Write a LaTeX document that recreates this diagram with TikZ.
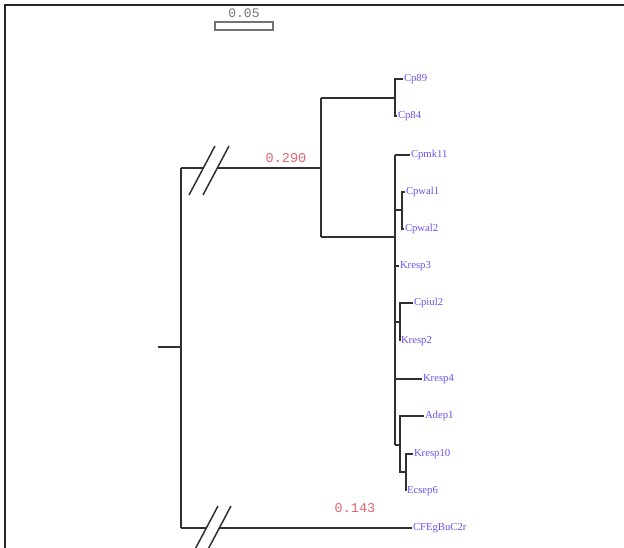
\documentclass[tikz,border=0pt]{standalone}
\usepackage{fontspec}
\setmainfont{Liberation Serif}
\setmonofont{Liberation Mono}
\definecolor{leafc}{RGB}{110,78,240}
\definecolor{numc}{RGB}{226,100,110}
\definecolor{linec}{RGB}{48,48,48}
\begin{document}
\begin{tikzpicture}[x=1pt,y=-1pt,
  br/.style={draw=linec, line width=1.6pt},
  leaf/.style={text=leafc, font=\fontsize{10.7}{11}\selectfont, anchor=west, inner sep=0.8pt},
  num/.style={text=numc, font=\ttfamily\fontsize{13.5}{14}\selectfont, inner sep=0pt},
  slash/.style={draw=linec, line width=1.5pt},
  gap/.style={draw=white, line width=1.8pt}]
\useasboundingbox (0,0) rectangle (624,548);
% frame
\coordinate (fbl) at (5,548);
\coordinate (ftl) at (5,5);
\coordinate (ftr) at (624,5);
\draw[line width=1.5pt, black!85] (fbl) -- (ftl) -- (ftr);
% scale bar
\node[draw=gray!90!black, line width=2.2pt, minimum width=58pt, minimum height=8pt, inner sep=0pt] (sb) at (244,26) {};
\node[text=gray!90!black, font=\ttfamily\fontsize{13}{13}\selectfont, inner sep=0pt] (sbl) at (244,13) {0.05};
% leaves
\node[leaf] (cp89) at (403,79) {Cp89};
\node[leaf] (cp84) at (397,116) {Cp84};
\node[leaf] (cpmk11) at (410,155) {Cpmk11};
\node[leaf] (cpwal1) at (405,192) {Cpwal1};
\node[leaf] (cpwal2) at (404,229) {Cpwal2};
\node[leaf] (kresp3) at (399,266) {Kresp3};
\node[leaf] (cpiul2) at (413,303) {Cpiul2};
\node[leaf] (kresp2) at (400,341) {Kresp2};
\node[leaf] (kresp4) at (422,379) {Kresp4};
\node[leaf] (adep1) at (424,416) {Adep1};
\node[leaf] (kresp10) at (413,454) {Kresp10};
\node[leaf] (ecsep6) at (406,491) {Ecsep6};
\node[leaf] (cfeg) at (412,528) {CFEgBuC2r};
% branch points
\coordinate (rtick) at (158,347);
\coordinate (root) at (181,347);
\coordinate (rtop) at (181,168);
\coordinate (rbot) at (181,528);
\coordinate (nA) at (321,168);
\coordinate (nAt) at (321,98);
\coordinate (nAb) at (321,237);
\coordinate (nB) at (395,98);
\coordinate (nC) at (395,237);
\coordinate (nCt) at (395,155);
\coordinate (nCb) at (395,445);
\coordinate (nW) at (402,210);
\coordinate (nWj) at (395,210);
\coordinate (nI) at (400,322);
\coordinate (nIj) at (395,322);
\coordinate (nD) at (400,445);
\coordinate (nE) at (406,472);
% root
\draw[br] (rtick) -- (root);
\draw[br] (rtop) -- (rbot);
% upper branch
\draw[br] (rtop) -- (nA);
\draw[br] (nAt) -- (nAb);
\draw[br] (nAt) -- (nB);
\draw[br] (nB) |- (cp89.west);
\draw[br] (nB) |- (cp84.west);
\draw[br] (nAb) -- (nC);
\draw[br, line width=2.2pt] (nCt) -- (nCb);
\draw[br] (nCt) -- (cpmk11.west);
\draw[br] (nWj) -- (nW);
\draw[br] (nW) |- (cpwal1.west);
\draw[br] (nW) |- (cpwal2.west);
\draw[br] (nC |- kresp3.west) -- (kresp3.west);
\draw[br] (nIj) -- (nI);
\draw[br] (nI) |- (cpiul2.west);
\draw[br] (nI) |- (kresp2.west);
\draw[br] (nC |- kresp4.west) -- (kresp4.west);
\draw[br] (nCb) -- (nD);
\draw[br] (nD) |- (adep1.west);
\draw[br] (nD) |- (nE);
\draw[br] (nE) |- (kresp10.west);
\draw[br] (nE) |- (ecsep6.west);
% lower branch
\draw[br] (rbot) -- (cfeg.west);
% break marks
\coordinate (u1) at (203,168);
\coordinate (u2) at (217,168);
\coordinate (l1) at (206,528);
\coordinate (l2) at (219,528);
\draw[gap] (u1) -- (u2);
\draw[gap] (l1) -- (l2);
\draw[slash] ([shift={(-14,27)}]u1) -- ([shift={(12,-22)}]u1);
\draw[slash] ([shift={(-14,27)}]u2) -- ([shift={(12,-22)}]u2);
\draw[slash] ([shift={(-14,27)}]l1) -- ([shift={(12,-22)}]l1);
\draw[slash] ([shift={(-14,27)}]l2) -- ([shift={(12,-22)}]l2);
% branch length labels
\node[num] (v290) at (286,158) {0.290};
\node[num] (v143) at (355,508) {0.143};
\end{tikzpicture}
\end{document}
